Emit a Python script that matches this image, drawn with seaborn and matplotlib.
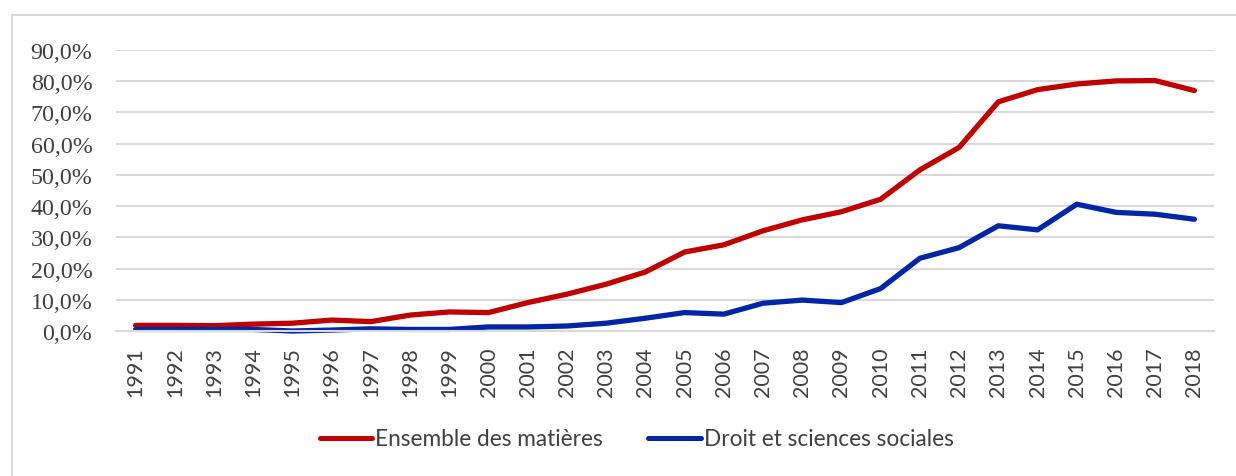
import matplotlib
matplotlib.use("Agg")
import matplotlib.pyplot as plt
from matplotlib.lines import Line2D
from matplotlib.ticker import FuncFormatter
import seaborn as sns
import pandas as pd

years = list(range(1991, 2019))
ensemble = [1.8, 1.8, 1.7, 2.2, 2.5, 3.5, 3.0, 5.1, 6.1, 5.9,
            9.1, 11.8, 15.0, 18.9, 25.3, 27.6, 32.1, 35.6, 38.2, 42.2,
            51.6, 58.8, 73.4, 77.3, 79.1, 80.1, 80.2, 77.0]
droit = [0.5, 0.5, 0.5, 0.5, 0.0, 0.3, 0.7, 0.5, 0.5, 1.3,
         1.3, 1.6, 2.5, 4.1, 5.9, 5.4, 8.9, 9.9, 9.1, 13.6,
         23.3, 26.7, 33.7, 32.4, 40.6, 38.0, 37.4, 35.8]
series_names = ["Ensemble des matières", "Droit et sciences sociales"]
colors = ["#C00000", "#0026A6"]
y_ticks = [0, 10, 20, 30, 40, 50, 60, 70, 80, 90]

df = pd.DataFrame({
    "Année": years * 2,
    "Part": [v / 100 for v in ensemble] + [v / 100 for v in droit],
    "Série": [series_names[0]] * len(years) + [series_names[1]] * len(years),
})

sns.set_theme(style="white")
plt.rcParams["font.family"] = ["Liberation Serif", "DejaVu Sans"]

fig = plt.figure(figsize=(12.36, 4.77), dpi=100)
ax = fig.add_axes([116 / 1236, 145 / 477, 1098 / 1236, 281 / 477])

sns.lineplot(data=df, x="Année", y="Part", hue="Série", hue_order=series_names,
             palette=colors, linewidth=3.8, ax=ax, legend=False,
             solid_capstyle="round")
for ln in ax.lines:
    ln.set_clip_on(False)

ax.set_xlim(1990.5, 2018.5)
ax.set_ylim(0, 0.9)
ax.set_yticks([t / 100 for t in y_ticks])
ax.yaxis.set_major_formatter(FuncFormatter(lambda v, _: f"{v * 100:.1f}%".replace(".", ",")))
ax.set_xticks(years)
ax.set_xticklabels([str(y) for y in years], rotation=90, family="Lato",
                   fontsize=15.5, color="#404040")
for lab in ax.get_yticklabels():
    lab.set_fontsize(17.3)
    lab.set_color("#404040")
ax.tick_params(axis="y", length=0, pad=17)
ax.tick_params(axis="x", length=0, pad=11)
ax.set_xlabel("")
ax.set_ylabel("")

ax.grid(axis="y", color="#D9D9D9", linewidth=1.5)
ax.set_axisbelow(True)
for s in ["top", "right", "left"]:
    ax.spines[s].set_visible(False)
ax.spines["bottom"].set_color("#D9D9D9")
ax.spines["bottom"].set_linewidth(1.5)

handles = [Line2D([0], [0], color=c, linewidth=3.6, solid_capstyle="round") for c in colors]
fig.legend(handles, series_names, loc="center left",
           bbox_to_anchor=(320 / 1236, 1 - 440 / 477), ncol=2, frameon=False,
           prop={"family": "Lato", "size": 16.3}, labelcolor="#404040",
           handlelength=2.3, handletextpad=0.15, columnspacing=2.0,
           borderaxespad=0, borderpad=0)

# outer chart frame (top and left edges)
frame_kw = dict(color="#D9D9D9", linewidth=1.5, transform=fig.transFigure)
fig.add_artist(Line2D([12 / 1236, 1.0], [1 - 16 / 477, 1 - 16 / 477], **frame_kw))
fig.add_artist(Line2D([12 / 1236, 12 / 1236], [0, 1 - 16 / 477], **frame_kw))

fig.savefig("out.png", dpi=100, facecolor="white")
